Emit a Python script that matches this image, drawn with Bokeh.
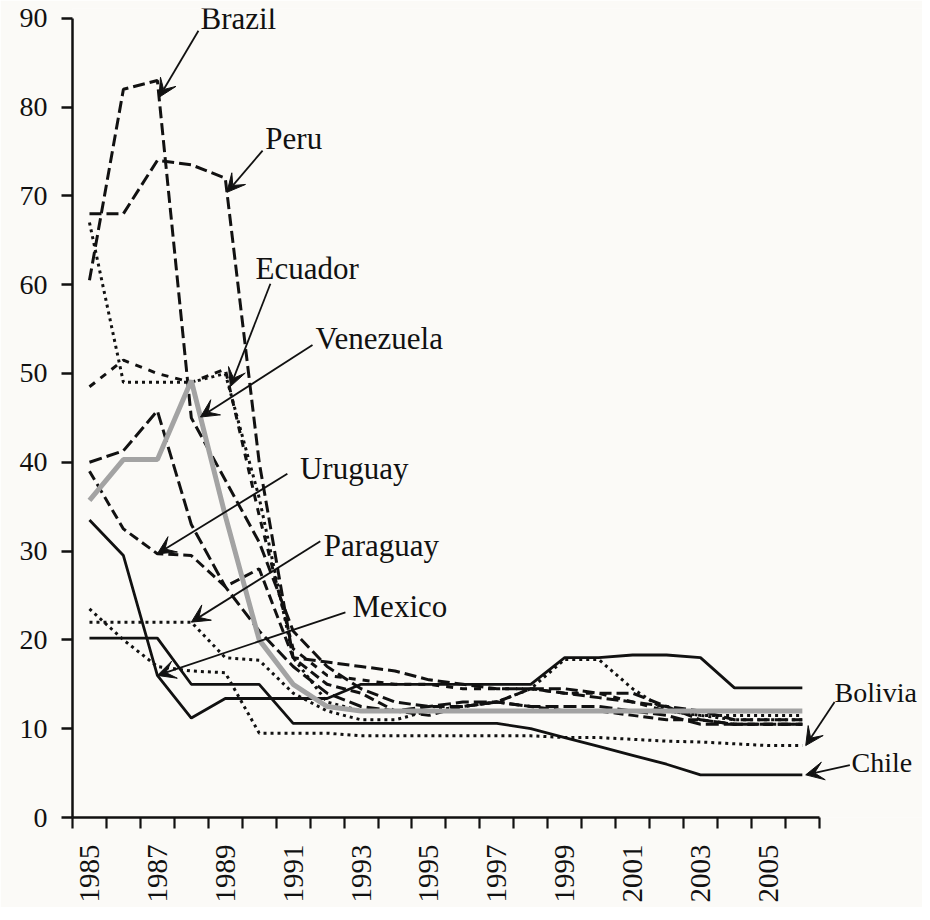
from math import pi
import numpy as np
from bokeh.plotting import figure
from bokeh.models import FixedTicker, Label, Arrow, VeeHead, Range1d
from bokeh.embed import file_html
from bokeh.resources import INLINE

years = list(range(1985, 2007))

brazil = [60.5, 82, 83, 45, 38, 31, 21, 17, 14.5, 13, 12.5, 12.5, 13, 14.5, 14.5, 14, 14, 12.5, 11, 10.5, 10.5, 10.5]
peru = [68, 68, 74, 73.5, 72, 40, 18, 17.5, 17, 16.5, 15.5, 15, 14.5, 14.5, 14, 13.5, 13, 12.5, 12, 11, 11, 11]
ecuador = [48.5, 51.5, 50, 49, 50.5, 34, 19, 16, 15.5, 15, 15, 14.5, 14.5, 14.5, 14, 14, 13, 12, 12, 12, 12, 12]
colombia = [67, 49, 49, 49, 50, 36, 18, 13, 12, 12, 12, 12, 12, 12, 12, 12, 12, 12, 11.5, 11.5, 11.5, 11.5]
venezuela = [35.7, 40.3, 40.3, 49.2, 34, 20, 15, 12.5, 12, 12, 12, 12, 12, 12, 12, 12, 12, 12, 12, 12, 12, 12]
argentina = [40, 41.3, 45.8, 33, 26, 21, 17, 14, 12.5, 12, 12.5, 13, 13, 12.5, 12.5, 12.5, 12, 11.5, 10.5, 10.5, 10.5, 10.5]
uruguay = [39, 32.5, 29.7, 29.5, 26, 28, 18, 15, 14, 12, 11.5, 12.5, 13, 12.5, 12, 12, 11.5, 11, 11, 10.5, 10.5, 10.5]
mexico = [33.5, 29.5, 16, 11.2, 13.4, 13.4, 13.4, 13.4, 15, 15, 15, 15, 15, 15, 18, 18, 18.3, 18.3, 18, 14.6, 14.6, 14.6]
paraguay = [22, 22, 22, 22, 18, 17.7, 14, 12, 11, 11, 12, 12.5, 13, 14.5, 17.8, 17.8, 14.5, 12, 11.5, 11, 11, 11]
bolivia = [23.5, 20, 17, 16.5, 16.3, 9.5, 9.5, 9.5, 9.2, 9.2, 9.2, 9.2, 9.2, 9.2, 9, 9, 8.8, 8.6, 8.5, 8.3, 8.1, 8.1]
chile = [20.2, 20.2, 20.2, 15, 15, 15, 10.6, 10.6, 10.6, 10.6, 10.6, 10.6, 10.6, 10, 9, 8, 7, 6, 4.8, 4.8, 4.8, 4.8]

y_ticks = list(range(0, 100, 10))
x_label_years = list(range(1985, 2007, 2))

BG = "#fbfaf7"
SERIF = "Liberation Serif"

p = figure(frame_width=850, frame_height=809, min_border_left=72, min_border_right=0,
           min_border_top=8, min_border_bottom=90,
           x_range=Range1d(1984.5, 2009.54), y_range=Range1d(0, 91.1),
           output_backend="svg", toolbar_location=None,
           background_fill_color=BG, border_fill_color=BG)
p.outline_line_color = None
p.xgrid.visible = False
p.ygrid.visible = False

black = "#111111"
series = [
    (colombia, dict(line_dash="3 4", line_width=3)),
    (brazil, dict(line_dash="12 5", line_width=3)),
    (peru, dict(line_dash="12 5", line_width=3)),
    (ecuador, dict(line_dash="7 7", line_width=3)),
    (argentina, dict(line_dash="13 5", line_width=3)),
    (uruguay, dict(line_dash="10 5", line_width=3)),
    (paraguay, dict(line_dash="3 4", line_width=3)),
    (bolivia, dict(line_dash="3 4", line_width=3)),
    (chile, dict(line_width=2.8)),
    (mexico, dict(line_width=2.8)),
]
for vals, st in series:
    p.line(years, vals, line_color=black, **st)
p.line(years, venezuela, line_color="#a3a3a3", line_width=5)

# axes
yax = p.yaxis[0]
yax.ticker = FixedTicker(ticks=y_ticks)
yax.bounds = (0, 90)
yax.axis_line_width = 2.5
yax.axis_line_color = black
yax.major_tick_out = 11
yax.major_tick_in = 0
yax.major_tick_line_width = 2.5
yax.major_tick_line_color = black
yax.minor_tick_line_color = None
yax.major_label_text_font = SERIF
yax.major_label_text_font_size = "28px"
yax.major_label_text_color = black
yax.major_label_standoff = 14

xax = p.xaxis[0]
xax.ticker = FixedTicker(ticks=x_label_years, minor_ticks=[y - 0.5 for y in years] + [2006.5])
xax.bounds = (1984.5, 2006.5)
xax.axis_line_width = 2.5
xax.axis_line_color = black
xax.major_tick_out = 0
xax.major_tick_in = 0
xax.minor_tick_out = 11
xax.minor_tick_in = 0
xax.minor_tick_line_width = 2.2
xax.minor_tick_line_color = black
xax.major_label_orientation = pi / 2
xax.major_label_text_font = SERIF
xax.major_label_text_font_size = "29px"
xax.major_label_text_color = black
xax.major_label_standoff = 16

# annotations: (text, label x, label y, tail x, tail y, tip x, tip y, font size)
def at(vals, yr):
    return float(np.interp(yr, years, vals))

notes = [
    ("Brazil", 1988.27, 90.0, 1988.21, 88.6, 1987.05, at(brazil, 1987.05), "31px"),
    ("Peru", 1990.18, 76.5, 1990.10, 75.1, 1989.05, at(peru, 1989.05), "31px"),
    ("Ecuador", 1989.89, 61.8, 1990.33, 60.1, 1989.15, at(ecuador, 1989.15) + 0.5, "31px"),
    ("Venezuela", 1991.66, 53.95, 1991.57, 53.2, 1988.27, at(venezuela, 1988.27), "31px"),
    ("Uruguay", 1991.2, 39.3, 1990.83, 38.7, 1987.0, at(uruguay, 1987.0), "31px"),
    ("Paraguay", 1991.9, 30.6, 1991.8, 31.1, 1988.0, at(paraguay, 1988.0), "31px"),
    ("Mexico", 1992.75, 23.8, 1992.54, 23.1, 1987.0, at(mexico, 1987.0), "31px"),
    ("Bolivia", 2006.95, 14.1, 2006.95, 13.0, 2006.1, at(bolivia, 2006), "28px"),
    ("Chile", 2007.45, 6.2, 2007.4, 5.9, 2006.1, at(chile, 2006), "28px"),
]
for txt, lx, ly, tx, ty, hx, hy, fs in notes:
    p.add_layout(Arrow(x_start=tx, y_start=ty, x_end=hx, y_end=hy,
                       line_color=black, line_width=1.8,
                       end=VeeHead(size=18, fill_color=black, line_color=black)))
    p.add_layout(Label(x=lx, y=ly, text=txt, text_baseline="middle", text_align="left",
                       text_font=SERIF, text_font_size=fs, text_color=black))

open("out.html", "w").write(file_html(p, INLINE))
